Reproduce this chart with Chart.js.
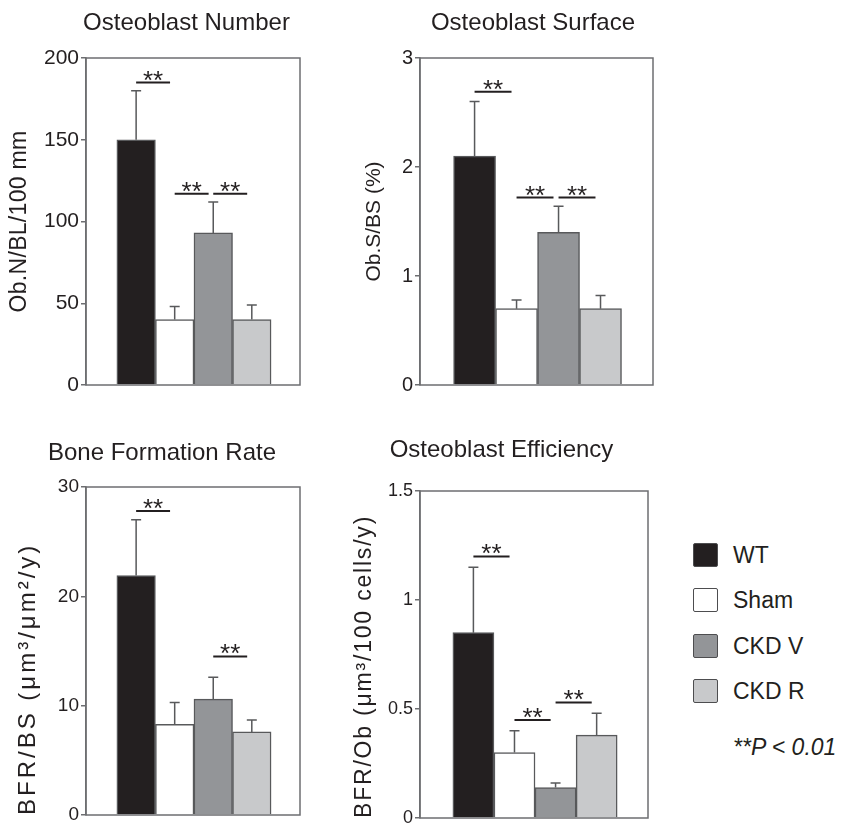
<!DOCTYPE html>
<html>
<head>
<meta charset="utf-8">
<script src="https://cdn.jsdelivr.net/npm/chart.js@4.4.1/dist/chart.umd.min.js"></script>
<style>
body{margin:0;background:#fff;overflow:hidden;width:843px;height:825px;position:relative;font-family:"Liberation Sans",Arial,sans-serif;color:#231f20}
.panel{position:absolute}
.key{position:absolute;width:23px;height:22px;border:1.5px solid #4d4d4f;border-radius:2px}
.lbl{position:absolute;font-size:23px;line-height:26px}
#pval{position:absolute;left:733px;top:734px;font-size:23px;font-style:italic}
</style>
</head>
<body>
<div id="p1" class="panel"><canvas id="c1"></canvas></div>
<div id="p2" class="panel"><canvas id="c2"></canvas></div>
<div id="p3" class="panel"><canvas id="c3"></canvas></div>
<div id="p4" class="panel"><canvas id="c4"></canvas></div>
<div id="legend"></div>
<div id="pval">**P &lt; 0.01</div>
<script>
// groups and colours
const groups = ["WT", "Sham", "CKD V", "CKD R"];
const barColors = ["#231f20", "#ffffff", "#939598", "#c8c9cb"];

// Osteoblast Number
const obNumber = [150, 40, 93, 40];
const obNumberErr = [30, 8, 19, 9];
const obNumberSigFrom = [0, 1, 2];
const obNumberSigAt = [185, 117, 117];

// Osteoblast Surface
const obSurface = [2.1, 0.7, 1.4, 0.7];
const obSurfaceErr = [0.5, 0.08, 0.24, 0.12];
const obSurfaceSigFrom = [0, 1, 2];
const obSurfaceSigAt = [2.69, 1.72, 1.72];

// Bone Formation Rate
const bfr = [21.9, 8.3, 10.6, 7.6];
const bfrErr = [5.1, 2.0, 2.0, 1.1];
const bfrSigFrom = [0, 2];
const bfrSigAt = [27.8, 14.5];

// Osteoblast Efficiency
const obEff = [0.85, 0.30, 0.14, 0.38];
const obEffErr = [0.30, 0.10, 0.02, 0.10];
const obEffSigFrom = [0, 1, 2];
const obEffSigAt = [1.20, 0.45, 0.53];

const ink = "#231f20";
const frame = "#6d6e71";
const edge = "#58595b";
const fam = "'Liberation Sans', Arial, sans-serif";

// error bars, significance marks and the box round the plot
const extras = {
  id: "extras",
  afterDatasetsDraw(chart) {
    const ctx = chart.ctx, xs = chart.scales.x, ys = chart.scales.y, a = chart.chartArea;
    const o = chart.options.plugins.extras;
    ctx.save();
    ctx.lineWidth = 1.5;
    ctx.strokeStyle = edge;
    o.values.forEach(function(v, i) {
      const x = xs.getPixelForValue(i);
      const y0 = ys.getPixelForValue(v);
      const y1 = ys.getPixelForValue(v + o.errors[i]);
      ctx.beginPath();
      ctx.moveTo(x, y0); ctx.lineTo(x, y1);
      ctx.moveTo(x - 5, y1); ctx.lineTo(x + 5, y1);
      ctx.stroke();
    });
    ctx.strokeStyle = ink;
    ctx.fillStyle = ink;
    ctx.lineWidth = 2;
    ctx.font = "26px " + fam;
    ctx.textAlign = "center";
    ctx.textBaseline = "alphabetic";
    o.sigFrom.forEach(function(g, k) {
      const xa = xs.getPixelForValue(g);
      const xb = xs.getPixelForValue(g + 0.88);
      const y = ys.getPixelForValue(o.sigAt[k]);
      ctx.beginPath();
      ctx.moveTo(xa, y); ctx.lineTo(xb, y);
      ctx.stroke();
      ctx.fillText("**", (xa + xb) / 2, y + 6);
    });
    ctx.strokeStyle = frame;
    ctx.lineWidth = 1.5;
    ctx.strokeRect(a.left, a.top, a.right - a.left, a.bottom - a.top);
    ctx.restore();
    // the y title layer is drawn after this hook; widen its lettering
    ctx.letterSpacing = o.axisSpacing + "px";
  },
  afterDraw(chart) {
    chart.ctx.letterSpacing = "0px";
  }
};

function makePanel(n, title, yTitle, values, errors, yMax, step, sigFrom, sigAt, box) {
  const holder = document.getElementById("p" + n);
  const h = box.plotBottom - box.top + 15;
  holder.style.left = box.left + "px";
  holder.style.top = box.top + "px";
  holder.style.width = box.width + "px";
  holder.style.height = h + "px";
  const titleSize = 24, titleLine = titleSize * 1.2;
  const padTop = box.titleY - box.top - titleLine / 2;
  const padBottom = box.plotTop - box.top - padTop - titleLine;

  new Chart("c" + n, {
    type: "bar",
    data: {
      datasets: [{
        data: values.map(function(v, i) { return {x: i, y: v}; }),
        backgroundColor: barColors,
        borderColor: edge,
        borderWidth: 1.5,
        categoryPercentage: 1,
        barPercentage: 1
      }]
    },
    options: {
      responsive: true,
      maintainAspectRatio: false,
      animation: false,
      layout: {padding: {left: 0, top: 0, bottom: 15, right: 0}},
      scales: {
        x: {type: "linear", display: false, min: -1.3, max: 4.25, offset: false},
        y: {
          min: 0, max: yMax,
          ticks: {
            stepSize: step, color: ink, padding: 2,
            font: {size: box.tickSize, family: fam},
            callback: function(v) { return String(+v.toFixed(2)); }
          },
          grid: {drawOnChartArea: false, drawTicks: true, tickLength: 5, color: frame, lineWidth: 1.5, z: 1},
          border: {color: frame, width: 1.5, z: 1},
          title: {
            display: true, text: yTitle, color: ink, align: box.axisAlign,
            font: {size: box.axisSize, family: fam},
            padding: {top: box.axisX - box.left - box.axisSize * 0.6, bottom: 0}
          },
          afterFit: function(s) { s.width = box.plotLeft - box.left; }
        },
        // empty right-hand axis that only keeps room, so the title stays centred on the canvas
        gap: {
          position: "right", display: true,
          ticks: {display: false}, grid: {display: false}, border: {display: false},
          afterFit: function(s) { s.width = box.left + box.width - box.plotRight; }
        }
      },
      plugins: {
        legend: {display: false},
        tooltip: {enabled: false},
        title: {
          display: true, text: title, color: ink,
          font: {size: titleSize, weight: "normal", family: fam},
          padding: {top: padTop, bottom: padBottom}
        },
        extras: {values: values, errors: errors, sigFrom: sigFrom, sigAt: sigAt, axisSpacing: box.axisSpacing}
      }
    },
    plugins: [extras]
  });
}

makePanel(1, "Osteoblast Number", "Ob.N/BL/100 mm", obNumber, obNumberErr, 200, 50,
  obNumberSigFrom, obNumberSigAt,
  {left: 0, width: 373, top: 0, titleY: 23, plotTop: 58, plotBottom: 385, plotLeft: 86, plotRight: 300,
   axisX: 20, axisAlign: "center", axisSize: 23, axisSpacing: 0.3, tickSize: 21});
makePanel(2, "Osteoblast Surface", "Ob.S/BS (%)", obSurface, obSurfaceErr, 3, 1,
  obSurfaceSigFrom, obSurfaceSigAt,
  {left: 357, width: 352, top: 0, titleY: 23, plotTop: 58, plotBottom: 385, plotLeft: 420, plotRight: 653,
   axisX: 374, axisAlign: "center", axisSize: 21, axisSpacing: 0, tickSize: 20});
makePanel(3, "Bone Formation Rate", "BFR/BS (\u03bcm\u00b3/\u03bcm\u00b2/y)", bfr, bfrErr, 30, 10,
  bfrSigFrom, bfrSigAt,
  {left: 0, width: 324, top: 430, titleY: 453.5, plotTop: 487, plotBottom: 815, plotLeft: 86, plotRight: 300,
   axisX: 28, axisAlign: "start", axisSize: 24, axisSpacing: 3, tickSize: 19});
makePanel(4, "Osteoblast Efficiency", "BFR/Ob (\u03bcm\u00b3/100 cells/y)", obEff, obEffErr, 1.5, 0.5,
  obEffSigFrom, obEffSigAt,
  {left: 350, width: 303, top: 430, titleY: 450.5, plotTop: 491, plotBottom: 818, plotLeft: 420, plotRight: 648,
   axisX: 365, axisAlign: "start", axisSize: 23, axisSpacing: 1.8, tickSize: 18});

// legend on the right
const legend = document.getElementById("legend");
groups.forEach(function(g, i) {
  const top = 543 + i * 45.3;
  const key = document.createElement("div");
  key.className = "key";
  key.style.left = "693px";
  key.style.top = top + "px";
  key.style.background = barColors[i];
  legend.appendChild(key);
  const lbl = document.createElement("div");
  lbl.className = "lbl";
  lbl.style.left = "733px";
  lbl.style.top = (top - 1) + "px";
  lbl.textContent = g;
  legend.appendChild(lbl);
});
</script>
</body>
</html>
